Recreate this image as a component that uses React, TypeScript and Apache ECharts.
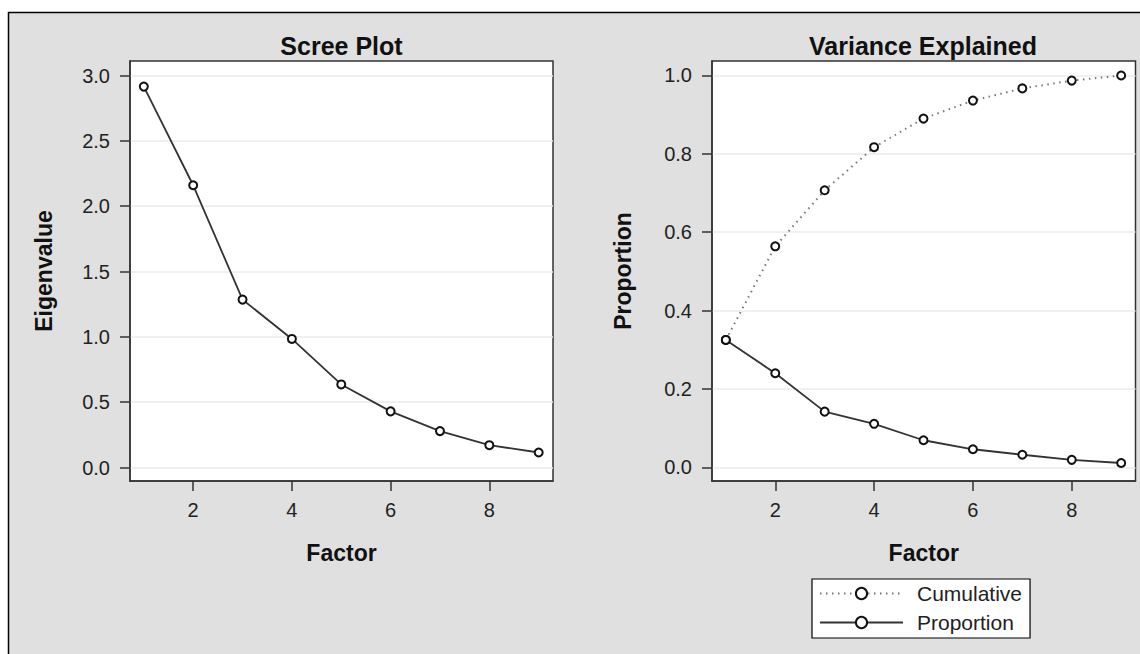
import React, { useEffect, useRef } from "react";
import * as echarts from "echarts";

const factors = [1, 2, 3, 4, 5, 6, 7, 8, 9];
const eigenvalues = [2.915, 2.16, 1.285, 0.984, 0.636, 0.43, 0.279, 0.171, 0.115];
const cumulative = [0.325, 0.564, 0.707, 0.817, 0.89, 0.936, 0.967, 0.987, 1.0];
const proportion = [0.325, 0.24, 0.142, 0.111, 0.069, 0.046, 0.032, 0.019, 0.011];
const xTicks = [2, 4, 6, 8];
const eigTicks = [0, 0.5, 1, 1.5, 2, 2.5, 3];
const propTicks = [0, 0.2, 0.4, 0.6, 0.8, 1];

const FONT = "'Liberation Sans', Arial, Helvetica, sans-serif";
const INK = "#222";

function xAxisCfg(gridIndex: number) {
  return {
    type: "value",
    gridIndex,
    min: 0.72,
    max: 9.29,
    name: "Factor",
    nameLocation: "middle",
    nameGap: 72,
    nameTextStyle: { fontFamily: FONT, fontSize: 23, fontWeight: "bold", color: "#111", verticalAlign: "middle" },
    axisLine: { show: true, onZero: false, lineStyle: { color: "#333", width: 1.5 } },
    axisTick: { show: true, inside: false, length: 10, customValues: xTicks, lineStyle: { color: "#333", width: 1.5 } },
    axisLabel: {
      customValues: xTicks,
      margin: 19,
      fontFamily: FONT,
      fontSize: 20,
      color: INK,
      formatter: (v: number) => String(v),
    },
    splitLine: { show: false },
  };
}

function yAxisCfg(gridIndex: number, name: string, min: number, max: number, ticks: number[], gap: number) {
  return {
    type: "value",
    gridIndex,
    min,
    max,
    name,
    nameLocation: "middle",
    nameGap: gap,
    nameTextStyle: { fontFamily: FONT, fontSize: 23, fontWeight: "bold", color: "#111", verticalAlign: "middle" },
    axisLine: { show: true, onZero: false, lineStyle: { color: "#333", width: 1.5 } },
    axisTick: { show: true, inside: false, length: 10, customValues: ticks, lineStyle: { color: "#333", width: 1.5 } },
    axisLabel: {
      customValues: ticks,
      margin: 20,
      fontFamily: FONT,
      fontSize: 20,
      color: INK,
      formatter: (v: number) => v.toFixed(1),
    },
    splitLine: { show: true, lineStyle: { color: "#ebebeb", width: 1.5 } },
  };
}

export default function App() {
  const ref = useRef<HTMLDivElement>(null);
  useEffect(() => {
    if (!ref.current) return;
    const chart = echarts.init(ref.current, undefined, { renderer: "svg" });
    const markerStyle = { color: "#111", borderColor: "#111", borderWidth: 1.8 };
    chart.setOption({
      animation: false,
      backgroundColor: "#fff",
      graphic: [
        {
          type: "rect",
          z: -10,
          silent: true,
          shape: { x: 8.5, y: 12.5, width: 1140, height: 660 },
          style: { fill: "#e0e0e0", stroke: "#000", lineWidth: 1.5 },
        },
      ],
      title: [
        {
          text: "Scree Plot",
          left: 341.5,
          top: 33,
          padding: 0,
          textAlign: "center",
          textStyle: { fontFamily: FONT, fontSize: 25, fontWeight: "bold", color: "#111" },
        },
        {
          text: "Variance Explained",
          left: 923,
          top: 33,
          padding: 0,
          textAlign: "center",
          textStyle: { fontFamily: FONT, fontSize: 25, fontWeight: "bold", color: "#111" },
        },
      ],
      grid: [
        { left: 130, top: 61, width: 423, height: 420, show: true, backgroundColor: "#fff", borderColor: "#333", borderWidth: 1.5 },
        { left: 712, top: 61, width: 423.5, height: 420, show: true, backgroundColor: "#fff", borderColor: "#333", borderWidth: 1.5 },
      ],
      xAxis: [xAxisCfg(0), xAxisCfg(1)],
      yAxis: [
        yAxisCfg(0, "Eigenvalue", -0.103, 3.111, eigTicks, 86),
        yAxisCfg(1, "Proportion", -0.035, 1.037, propTicks, 89),
      ],
      legend: {
        data: ["Cumulative", "Proportion"],
        orient: "vertical",
        left: 812,
        top: 579,
        padding: [4, 8, 5, 7],
        itemWidth: 83,
        itemHeight: 14,
        itemGap: 8,
        backgroundColor: "#fff",
        borderColor: "#000",
        borderWidth: 1.2,
        borderRadius: 0,
        textStyle: { fontFamily: FONT, fontSize: 21, color: INK, padding: [0, 0, 0, 9] },
      },
      series: [
        {
          name: "Eigenvalue",
          type: "line",
          xAxisIndex: 0,
          yAxisIndex: 0,
          data: factors.map((f, i) => [f, eigenvalues[i]]),
          symbol: "emptyCircle",
          symbolSize: 8,
          lineStyle: { color: "#333", width: 1.8 },
          itemStyle: markerStyle,
        },
        {
          name: "Cumulative",
          type: "line",
          xAxisIndex: 1,
          yAxisIndex: 1,
          data: factors.map((f, i) => [f, cumulative[i]]),
          symbol: "emptyCircle",
          symbolSize: 8,
          lineStyle: { color: "#777", width: 2, type: [1.5, 4.5] },
          itemStyle: markerStyle,
        },
        {
          name: "Proportion",
          type: "line",
          xAxisIndex: 1,
          yAxisIndex: 1,
          data: factors.map((f, i) => [f, proportion[i]]),
          symbol: "emptyCircle",
          symbolSize: 8,
          lineStyle: { color: "#333", width: 1.8 },
          itemStyle: markerStyle,
        },
      ],
    });
    return () => chart.dispose();
  }, []);
  return <div ref={ref} style={{ position: "absolute", left: 0, top: 0, width: 1140, height: 654 }} />;
}
